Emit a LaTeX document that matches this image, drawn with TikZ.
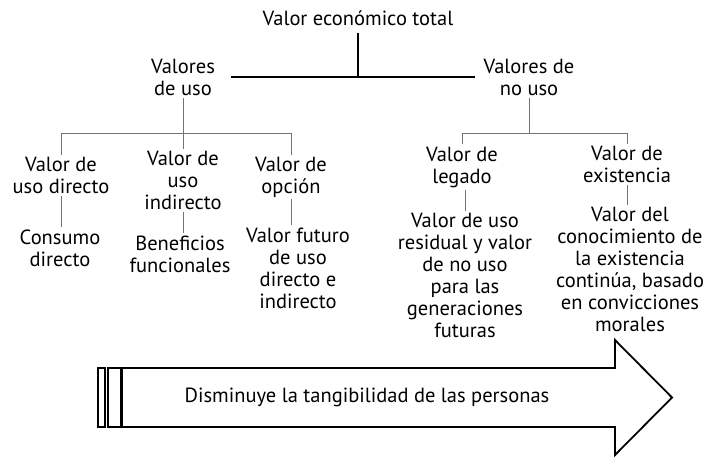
\documentclass[tikz,border=0pt]{standalone}
\usepackage{fontspec}
\setmainfont{PT Sans}
\begin{document}
\begin{tikzpicture}[x=1pt,y=-1pt,
  lbl/.style={align=center, font=\fontsize{20.5}{22}\selectfont, inner sep=2pt},
  thickline/.style={line width=2pt, black},
  thinline/.style={line width=0.9pt, black!55},
  outline/.style={line width=1.8pt, black}]
\useasboundingbox (0,0) rectangle (710,456);
% nodes
\node[lbl] (total) at (358,18) {Valor económico total};
\node[lbl, inner xsep=16pt] (vu) at (183,77) {Valores\\de uso};
\node[lbl, inner xsep=8pt] (vnu) at (529,77) {Valores de\\no uso};
\node[lbl] (vud) at (61,175) {Valor de\\uso directo};
\node[lbl] (vui) at (183,180) {Valor de\\uso\\indirecto};
\node[lbl] (vop) at (291,177) {Valor de\\opción};
\node[lbl] (leg) at (462,167) {Valor de\\legado};
\node[lbl] (ex) at (627,164) {Valor de\\existencia};
\node[lbl] (cd) at (60,248) {Consumo\\directo};
\node[lbl] (bf) at (180,254) {Beneficios\\funcionales};
\node[lbl] (vf) at (298,268) {Valor futuro\\de uso\\directo e\\indirecto};
\node[lbl] (res) at (465,275) {Valor de uso\\residual y valor\\de no uso\\para las\\generaciones\\futuras};
\node[lbl] (con) at (630,269) {Valor del\\conocimiento de\\la existencia\\continúa, basado\\en convicciones\\morales};
% top connectors
\coordinate (tj) at ([yshift=-5pt]total.south);
\draw[thickline] (tj) -- (tj |- vu.east);
\draw[thickline] (vu.east) -- (vnu.west);
% use values
\coordinate (lbus) at (0,133);
\draw[thinline] (vu.south) -- (vui.north);
\draw[thinline] (vud.north) -- (vud.north |- lbus) -- (vop.north |- lbus) -- (vop.north);
% non-use values
\draw[thinline] (vnu.south) -- (vnu.south |- lbus);
\draw[thinline] (leg.north) -- (leg.north |- lbus) -- (ex.north |- lbus) -- (ex.north);
% level 3
\draw[thinline] (vud.south) -- (vud.south |- cd.north);
\draw[thinline] (vui.south) -- (vui.south |- bf.north);
\draw[thinline] (vop.south) -- (vop.south |- vf.north);
\draw[thinline] (res.north |- leg.south) -- (res.north);
\draw[thinline] (ex.south) -- (ex.south |- con.north);
% arrow
\draw[outline] (98,368) rectangle (105,427);
\draw[outline] (108,368) rectangle (121,427);
\draw[outline] (122,368) -- (615,368) -- (615,340) -- (672,397.5) -- (615,455) -- (615,427) -- (122,427) -- cycle;
\node[lbl] (arrowtext) at (367,397) {Disminuye la tangibilidad de las personas};
\end{tikzpicture}
\end{document}
